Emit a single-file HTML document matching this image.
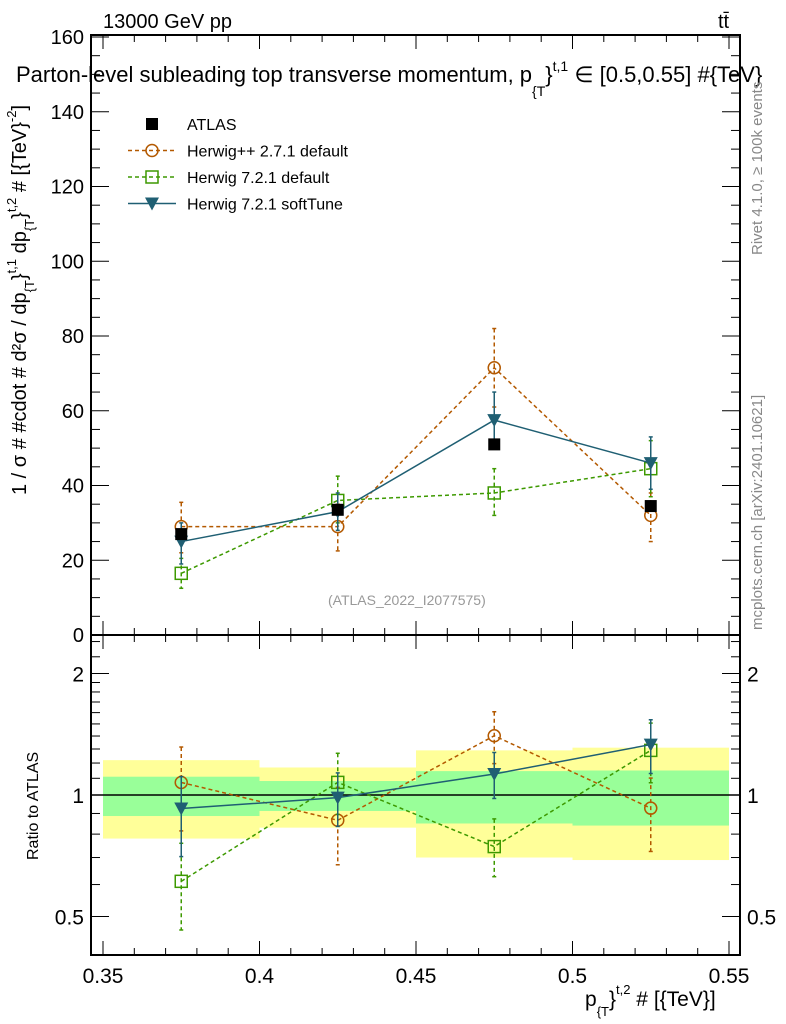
<!DOCTYPE html>
<html><head><meta charset="utf-8"><style>
html,body{margin:0;padding:0;background:#fff}
svg{display:block;font-family:"Liberation Sans",sans-serif}
</style></head><body>
<svg id="c" width="786" height="1024" viewBox="0 0 786 1024">
<g id="bands"></g>
<g id="frame"></g>
<g id="series"></g>
<g id="labels">
<text x="103" y="28" font-size="20">13000 GeV pp</text>
<text x="718" y="28" font-size="20">tt̄</text>
<text x="16" y="82" font-size="22">Parton-level subleading top transverse momentum, p<tspan dy="14" font-size="14">{T</tspan><tspan dy="-14">}</tspan><tspan dy="-11" font-size="14">t,1</tspan><tspan dy="11"> ∈ [0.5,0.55] #{TeV}</tspan></text>
<text x="328" y="605" font-size="14" fill="#999">(ATLAS_2022_I2077575)</text>
<text transform="translate(762,255) rotate(-90)" font-size="15" fill="#888">Rivet 4.1.0, ≥ 100k events</text>
<text transform="translate(762,630) rotate(-90)" font-size="15" fill="#888">mcplots.cern.ch [arXiv:2401.10621]</text>
<text transform="translate(26,495) rotate(-90)" font-size="20">1 / σ # #cdot # d²σ / dp<tspan dy="8" font-size="13">{T</tspan><tspan dy="-8">}</tspan><tspan dy="-10" font-size="13">t,1</tspan><tspan dy="10"> dp</tspan><tspan dy="8" font-size="13">{T</tspan><tspan dy="-8">}</tspan><tspan dy="-10" font-size="13">t,2</tspan><tspan dy="10"> # [{TeV}</tspan><tspan dy="-10" font-size="13">-2</tspan><tspan dy="10">]</tspan></text>
<text transform="translate(38,860) rotate(-90)" font-size="16">Ratio to ATLAS</text>
<text x="585" y="1006" font-size="21">p<tspan dy="10" font-size="13">{T</tspan><tspan dy="-10">}</tspan><tspan dy="-12" font-size="13">t,2</tspan><tspan dy="12"> # [{TeV}]</tspan></text>
</g>
<g id="legend"></g>
</svg>
<script>
const edges=[0.35,0.4,0.45,0.5,0.55];
const xCenters=[0.375,0.425,0.475,0.525];
const atlas=[27,33.5,51,34.5];
const statUp=[1.11,1.083,1.146,1.15];
const statDn=[0.887,0.913,0.85,0.84];
const totUp=[1.22,1.17,1.29,1.31];
const totDn=[0.78,0.83,0.70,0.69];
const hpp=[29,29,71.5,32];
const hppHi=[35.5,35,82,38];
const hppLo=[22,22.5,61,25];
const h7=[16.5,36,38,44.5];
const h7Hi=[20.5,42.5,44.5,52];
const h7Lo=[12.5,30,32,37];
const soft=[25,33,57.5,46];
const softHi=[30,38,65,53];
const softLo=[19,28,50,39];
const xTicks=[0.35,0.4,0.45,0.5,0.55];
const yTicks=[0,20,40,60,80,100,120,140,160];
const rTicks=[0.5,1,2];

const NS="http://www.w3.org/2000/svg";
const L=91,R=740,T=35,MB=635,RB=955;
const X=v=>103+(v-0.35)/0.05*156.5;
const Y=v=>635-v/20*74.75;
const YR=v=>795-121.5*Math.log2(v);
function el(p,t,a){const e=document.createElementNS(NS,t);for(const k in a)e.setAttribute(k,a[k]);document.getElementById(p).appendChild(e);return e;}

for(let i=0;i<4;i++){
 const b1=el('bands','rect',{x:X(edges[i]),y:YR(totUp[i]),width:X(edges[i+1])-X(edges[i]),height:YR(totDn[i])-YR(totUp[i]),fill:'#ffff99'});
 
 
 const b2=el('bands','rect',{x:X(edges[i]),y:YR(statUp[i]),width:X(edges[i+1])-X(edges[i]),height:YR(statDn[i])-YR(statUp[i]),fill:'#99ff99'});
 
 
}
const f1=el('frame','rect',{x:L,y:T,width:R-L,height:MB-T,fill:'none',stroke:'#000','stroke-width':2});


const f2=el('frame','rect',{x:L,y:MB,width:R-L,height:RB-MB,fill:'none',stroke:'#000','stroke-width':2});


const one=el('frame','line',{x1:L,x2:R,y1:YR(1),y2:YR(1),stroke:'#000','stroke-width':1.5});


for(let v=0.35;v<=0.5501;v+=0.01){
 const major=Math.abs(Math.round(v*100)%5)<0.01;
 const len=major?14:7;
 for(const [yy,d] of [[T,1],[MB,-1],[MB,1],[RB,-1]]){
  el('frame','line',{x1:X(v),x2:X(v),y1:yy,y2:yy+d*len,stroke:'#000','stroke-width':1});
 }
}
xTicks.forEach(v=>{const t=el('frame','text',{x:X(v),y:983,'font-size':21,'text-anchor':'middle'});t.textContent=String(v);
 
 });
for(let v=0;v<=160;v+=5){const major=v%20===0;const len=major?18:9;
 el('frame','line',{x1:L,x2:L+len,y1:Y(v),y2:Y(v),stroke:'#000'});
 el('frame','line',{x1:R,x2:R-len,y1:Y(v),y2:Y(v),stroke:'#000'});}
yTicks.forEach(v=>{const t=el('frame','text',{x:84,y:Y(v)+7,'font-size':20,'text-anchor':'end'});t.textContent=v;
 
 });
[0.5,0.6,0.7,0.8,0.9,1,1.1,1.2,1.3,1.4,1.5,1.6,1.7,1.8,1.9,2,2.2,2.4].forEach(v=>{
 const major=rTicks.includes(v);const len=major?18:9;
 el('frame','line',{x1:L,x2:L+len,y1:YR(v),y2:YR(v),stroke:'#000'});
 el('frame','line',{x1:R,x2:R-len,y1:YR(v),y2:YR(v),stroke:'#000'});});
rTicks.forEach(v=>{
 const t=el('frame','text',{x:84,y:YR(v)+8,'font-size':21,'text-anchor':'end'});t.textContent=v;
 
 
 const t2=el('frame','text',{x:747,y:YR(v)+8,'font-size':21});t2.textContent=v;
 
 });

function marker(p,type,x,y,c){
 if(type==='sq') return el(p,'rect',{x:x-6,y:y-6,width:12,height:12,fill:'#000'});
 if(type==='circ') return el(p,'circle',{cx:x,cy:y,r:6,fill:'none',stroke:c,'stroke-width':1.5});
 if(type==='osq') return el(p,'rect',{x:x-6,y:y-6,width:12,height:12,fill:'none',stroke:c,'stroke-width':1.5});
 return el(p,'path',{d:`M${x-7},${y-6}L${x+7},${y-6}L${x},${y+7}Z`,fill:c});
}
function drawSeries(name,vals,hi,lo,c,dash,type,yf,norm){
 const v=vals.map((a,i)=>a/(norm?norm[i]:1));
 const h=hi.map((a,i)=>a/(norm?norm[i]:1));
 const l=lo.map((a,i)=>a/(norm?norm[i]:1));
 const pl=el('series','polyline',{points:xCenters.map((x,i)=>X(x)+','+yf(v[i])).join(' '),fill:'none',stroke:c,'stroke-width':1.5,'stroke-dasharray':dash});
 
 
 xCenters.forEach((x,i)=>{
  const e=el('series','line',{x1:X(x),x2:X(x),y1:yf(h[i]),y2:yf(l[i]),stroke:c,'stroke-width':1.5,'stroke-dasharray':dash});
  
  
  [h[i],l[i]].forEach(q=>el('series','line',{x1:X(x)-2,x2:X(x)+2,y1:yf(q),y2:yf(q),stroke:c,'stroke-width':1.5}));
  const m=marker('series',type,X(x),yf(v[i]),c);
  
  
 });
}
const cH='#b35900',cG='#3d9900',cS='#1f5f73';
drawSeries('herwigpp',hpp,hppHi,hppLo,cH,'4,3','circ',Y,null);
drawSeries('herwig7',h7,h7Hi,h7Lo,cG,'4,3','osq',Y,null);
drawSeries('softtune',soft,softHi,softLo,cS,'','tri',Y,null);
atlas.forEach((a,i)=>{const m=marker('series','sq',X(xCenters[i]),Y(a),'#000');
 
 });
drawSeries('herwigpp-ratio',hpp,hppHi,hppLo,cH,'4,3','circ',YR,atlas);
drawSeries('herwig7-ratio',h7,h7Hi,h7Lo,cG,'4,3','osq',YR,atlas);
drawSeries('softtune-ratio',soft,softHi,softLo,cS,'','tri',YR,atlas);

const leg=[['ATLAS','sq','#000',''],['Herwig++ 2.7.1 default','circ',cH,'4,3'],['Herwig 7.2.1 default','osq',cG,'4,3'],['Herwig 7.2.1 softTune','tri',cS,'']];
leg.forEach((e,i)=>{const y=124+i*26.5;
 if(e[1]!=='sq'){el('legend','line',{x1:128,x2:176,y1:y,y2:y,stroke:e[2],'stroke-width':1.5,'stroke-dasharray':e[3]});}
 marker('legend',e[1],152,y,e[2]);
 const t=el('legend','text',{x:187,y:y+6,'font-size':16});t.textContent=e[0];
 
 });
</script>
</body></html>
